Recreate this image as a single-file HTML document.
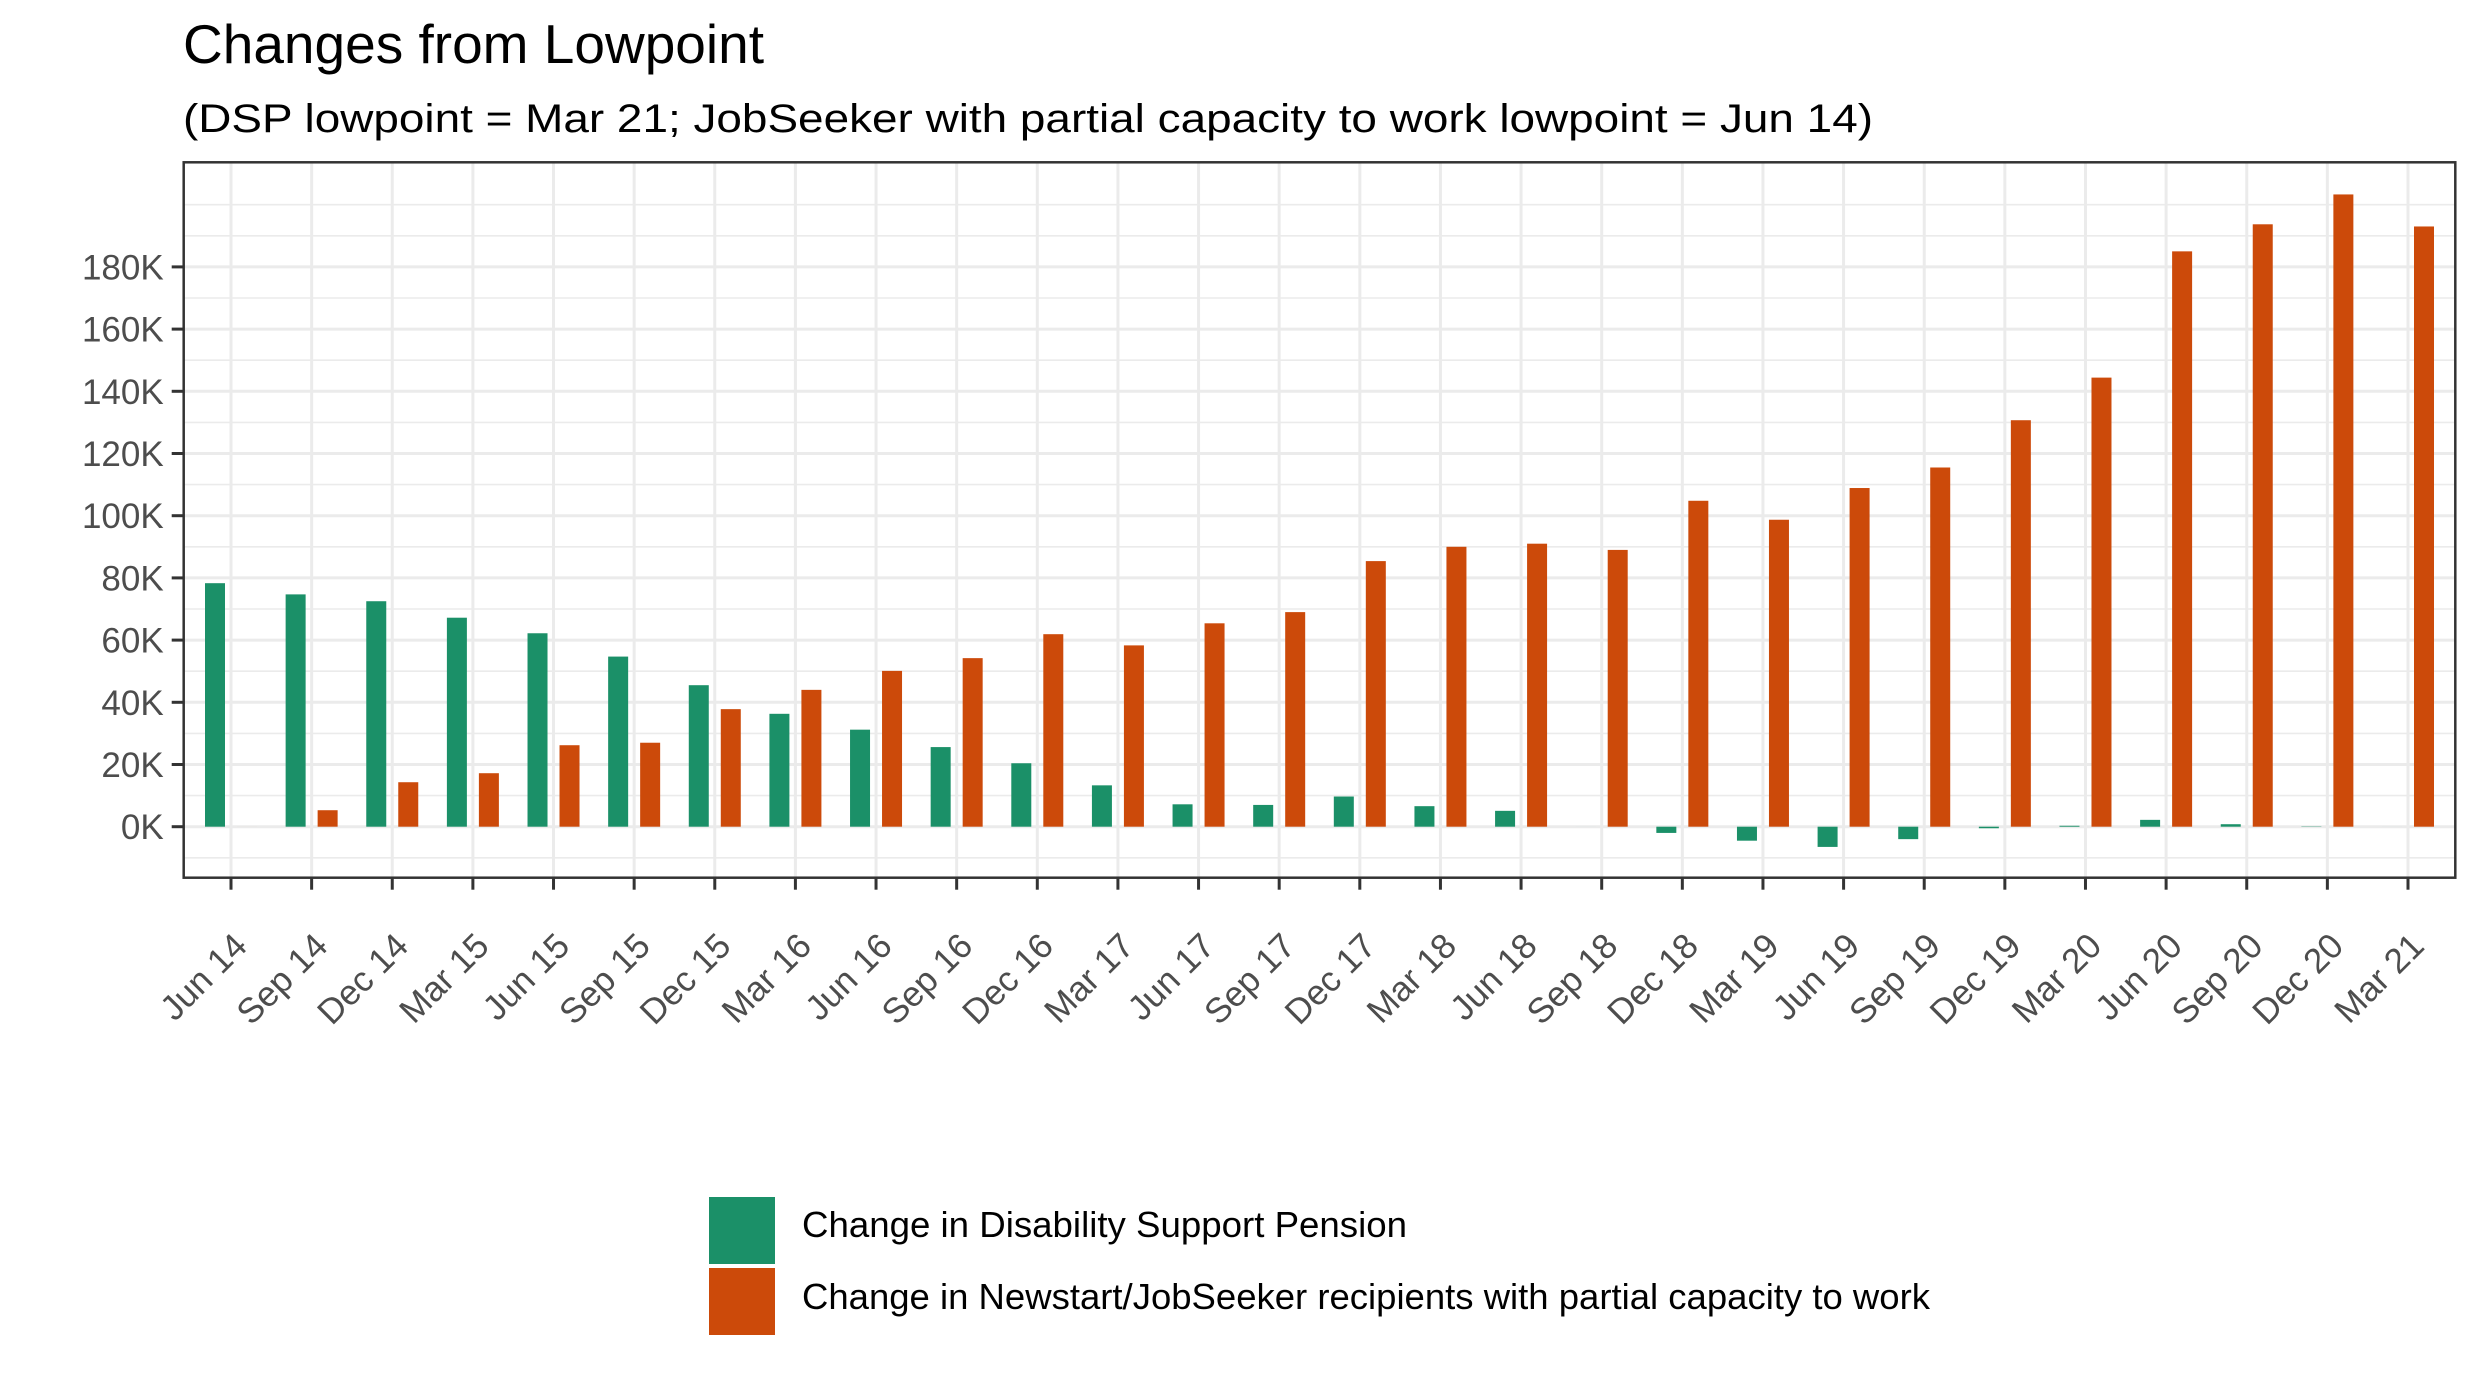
<!DOCTYPE html>
<html>
<head>
<meta charset="utf-8">
<style>
  html,body{margin:0;padding:0;background:#fff;}
  svg{display:block;}
  text{font-family:"Liberation Sans",Arial,sans-serif;}
</style>
</head>
<body>
<svg id="chart" width="2479" height="1383" viewBox="0 0 2479 1383" xmlns="http://www.w3.org/2000/svg">
  <rect x="0" y="0" width="2479" height="1383" fill="#ffffff"/>
  <text x="183" y="63" font-size="55" fill="#000" textLength="581" lengthAdjust="spacingAndGlyphs">Changes from Lowpoint</text>
  <text x="183" y="132" font-size="40" fill="#000" textLength="1690" lengthAdjust="spacingAndGlyphs">(DSP lowpoint = Mar 21; JobSeeker with partial capacity to work lowpoint = Jun 14)</text>
  <g id="grid"></g>
  <g id="bars"></g>
  <rect x="183.7" y="162.3" width="2271.6" height="715.4" fill="none" stroke="#333333" stroke-width="2.5"/>
  <g id="axes"></g>
  <g>
    <rect x="709" y="1197" width="66" height="67" fill="#1b9068"/>
    <text x="802" y="1237" font-size="36" fill="#000" textLength="605" lengthAdjust="spacingAndGlyphs">Change in Disability Support Pension</text>
    <rect x="709" y="1268" width="66" height="67" fill="#cc4a0a"/>
    <text x="802" y="1309" font-size="36" fill="#000" textLength="1128" lengthAdjust="spacingAndGlyphs">Change in Newstart/JobSeeker recipients with partial capacity to work</text>
  </g>
</svg>
<script>
const categories = ["Jun 14","Sep 14","Dec 14","Mar 15","Jun 15","Sep 15","Dec 15","Mar 16","Jun 16","Sep 16","Dec 16","Mar 17","Jun 17","Sep 17","Dec 17","Mar 18","Jun 18","Sep 18","Dec 18","Mar 19","Jun 19","Sep 19","Dec 19","Mar 20","Jun 20","Sep 20","Dec 20","Mar 21"];
const dspValues = [78.3,74.7,72.5,67.2,62.2,54.7,45.5,36.3,31.2,25.6,20.4,13.3,7.2,7.0,9.7,6.6,5.1,0,-2,-4.5,-6.5,-4,-0.5,0.3,2.2,0.8,0.1,0];
const jobseekerValues = [0,5.3,14.3,17.2,26.2,27,37.8,44,50.1,54.2,61.9,58.3,65.4,69,85.4,90,91,89,104.8,98.7,108.9,115.5,130.7,144.4,185,193.7,203.3,193];
const yTickValues = [0,20,40,60,80,100,120,140,160,180];
const yTickLabels = ["0K","20K","40K","60K","80K","100K","120K","140K","160K","180K"];

const NS = "http://www.w3.org/2000/svg";
const panel = {left:183.7, right:2455.3, top:162.3, bottom:877.7};
const x0 = 231, xStep = (2408 - 231) / 27;
function xScale(i){ return x0 + i * xStep; }
function yScale(v){ return 826.7 - v * 3.11; }
function mk(tag, attrs, parent){
  const el = document.createElementNS(NS, tag);
  for (const k in attrs) el.setAttribute(k, attrs[k]);
  parent.appendChild(el);
  return el;
}
const grid = document.getElementById('grid');
const bars = document.getElementById('bars');
const axes = document.getElementById('axes');

for (let v = -10; v <= 200; v += 20) {
  const l = mk('line', {x1:panel.left, x2:panel.right, y1:yScale(v), y2:yScale(v), stroke:'#ebebeb', 'stroke-width':1.6}, grid);
  
  
}
const l200 = mk('line', {x1:panel.left, x2:panel.right, y1:yScale(200), y2:yScale(200), stroke:'#ebebeb', 'stroke-width':1.6}, grid);


yTickValues.forEach((v, i) => {
  const y = yScale(v);
  const g = mk('line', {x1:panel.left, x2:panel.right, y1:y, y2:y, stroke:'#ebebeb', 'stroke-width':3}, grid);
  
  
  const t = mk('line', {x1:panel.left - 12, x2:panel.left, y1:y, y2:y, stroke:'#333333', 'stroke-width':3}, axes);
  
  
  const lb = mk('text', {x:panel.left - 20, y:y + 12.5, 'font-size':35, 'text-anchor':'end', fill:'#4d4d4d'}, axes);
  lb.textContent = yTickLabels[i];
  
  
});
categories.forEach((c, i) => {
  const x = xScale(i);
  const g = mk('line', {x1:x, x2:x, y1:panel.top, y2:panel.bottom, stroke:'#ebebeb', 'stroke-width':3}, grid);
  
  
  const t = mk('line', {x1:x, x2:x, y1:panel.bottom, y2:panel.bottom + 12, stroke:'#333333', 'stroke-width':3}, axes);
  
  
  const lx = x + 18, ly = 948;
  const lb = mk('text', {x:lx, y:ly, 'font-size':35, 'text-anchor':'end', fill:'#4d4d4d', transform:`rotate(-45 ${lx} ${ly})`}, axes);
  lb.textContent = c;
  
  
});
const barW = 20, off = 16;
categories.forEach((c, i) => {
  const x = xScale(i);
  const vd = dspValues[i];
  const yd0 = yScale(0), yd1 = yScale(vd);
  const b1 = mk('rect', {x:x - off - barW/2, y:Math.min(yd0, yd1), width:barW, height:Math.max(Math.abs(yd1 - yd0), 0.01), fill:'#1b9068'}, bars);
  
  
  const vj = jobseekerValues[i];
  const yj1 = yScale(vj);
  const b2 = mk('rect', {x:x + off - barW/2, y:Math.min(yd0, yj1), width:barW, height:Math.max(Math.abs(yj1 - yd0), 0.01), fill:'#cc4a0a'}, bars);
  
  
});
</script>
</body>
</html>
